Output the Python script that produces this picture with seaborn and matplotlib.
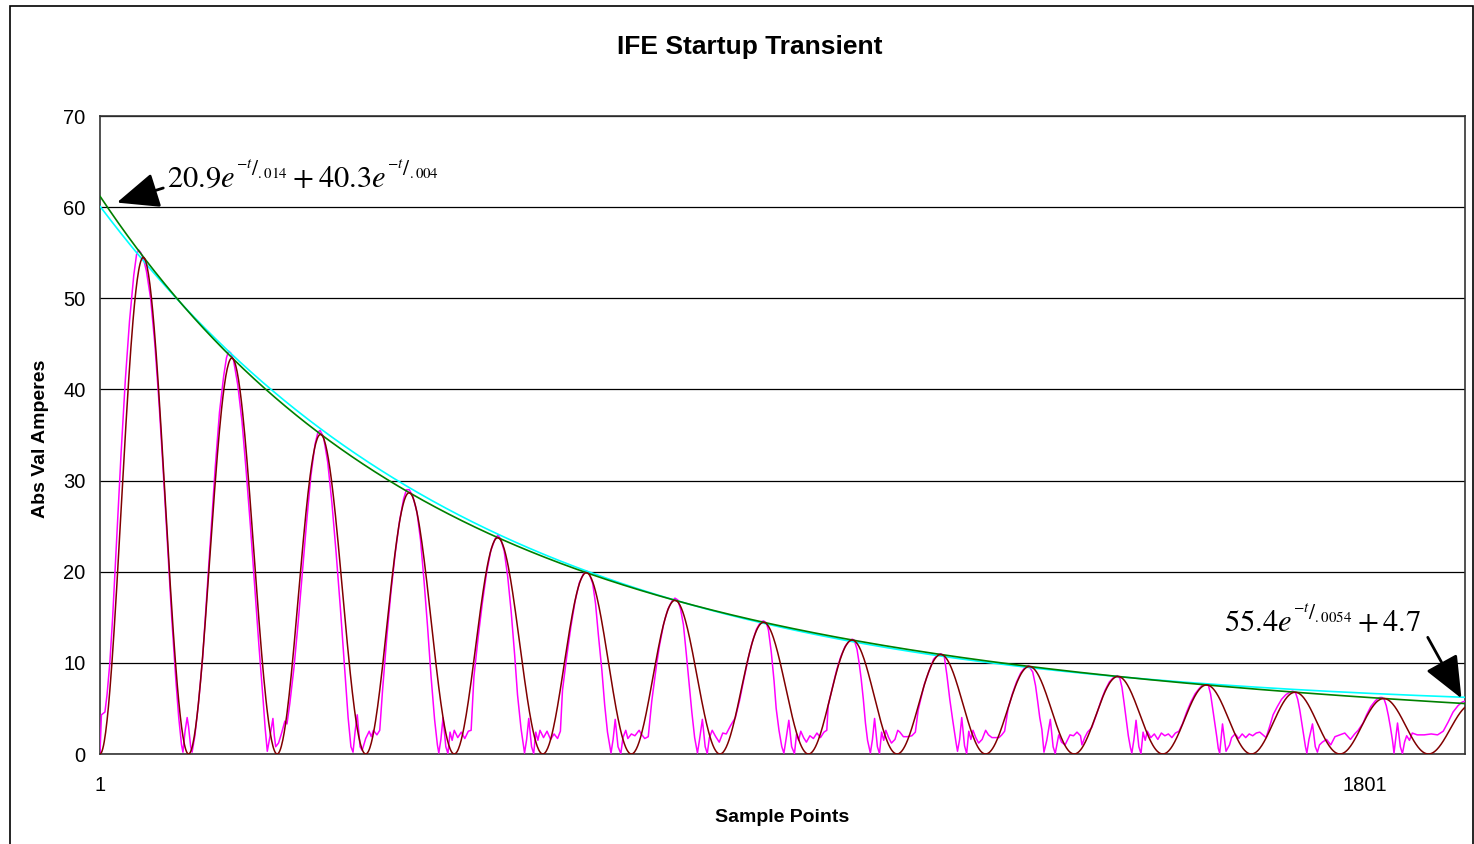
import numpy as np
import pandas as pd
import matplotlib
matplotlib.use("Agg")
import matplotlib.pyplot as plt
from matplotlib.patches import Rectangle
import seaborn as sns

# ---- data -------------------------------------------------------------
n_samples = 1943            # record length (sample points)
sample_rate = 1.0e5         # samples per second
half_period = 126           # samples between current zeros

# two-exponential envelope fit: 20.9 e^(-t/.014) + 40.3 e^(-t/.004)
fit2_amp = [20.9, 40.3]
fit2_tau = [0.014, 0.004]
# single exponential + offset fit: 55.4 e^(-t/.0054) + 4.7
fit1_amp = 55.4
fit1_tau = 0.0054
fit1_offset = 4.7

# measured startup current (absolute value), sample number / amps
pink_samples = [
    1, 3, 8, 11, 15, 19, 25, 31, 37, 43, 49, 53, 56, 59, 63, 67, 73, 79, 85, 91, 97, 103, 109, 113, 117, 119,
    122, 125, 127, 130, 132,
    136, 141, 147, 153, 159, 165, 171, 177, 181, 184, 187, 191, 197, 203, 209, 215, 221, 227, 233, 236, 239,
    243, 247, 249, 251, 255, 259, 264, 267,
    271, 277, 283, 289, 295, 301, 307, 311, 314, 319, 325, 331, 337, 343, 349, 354, 358, 361,
    364, 367, 369, 371, 374, 379, 384, 387, 390, 395, 399,
    403, 409, 415, 421, 427, 433, 437, 441, 446, 452, 457, 462, 467, 472, 477, 481, 483,
    486, 489, 493, 496, 499, 502, 505, 510, 515, 520, 525, 529,
    533, 539, 545, 551, 557, 563, 567, 571, 576, 581, 586, 591, 595, 600, 605,
    608, 611, 615, 618, 621, 624, 627, 632, 637, 642, 647, 652, 656,
    659, 665, 671, 677, 683, 689, 693, 697, 702, 706, 710, 715, 719, 723, 728,
    731, 734, 738, 742, 745, 749, 752, 757, 762, 768, 771, 776, 781,
    786, 793, 797, 803, 809, 815, 819, 823, 827, 831, 835, 839, 843, 847, 851,
    854, 858, 862, 865, 868, 872, 877, 882, 887, 892, 898,
    905, 911, 917, 923, 929, 935, 941, 945, 949, 952, 956, 960, 963, 967, 971, 974,
    977, 981, 985, 989, 992, 995, 998, 1002, 1006, 1011, 1016, 1021, 1026, 1031, 1035,
    1037, 1043, 1049, 1055, 1061, 1067, 1071, 1074, 1078, 1081, 1084, 1087, 1090, 1093, 1097,
    1100, 1103, 1107, 1110, 1113, 1116, 1119, 1123, 1127, 1132, 1136, 1139, 1144, 1150, 1156, 1161,
    1165, 1168, 1174, 1181, 1187, 1193, 1197, 1202, 1206, 1210, 1214, 1219, 1221,
    1224, 1227, 1231, 1234, 1237, 1240, 1243, 1247, 1251, 1256, 1261, 1265, 1270, 1280, 1284, 1288,
    1293, 1299, 1305, 1311, 1317, 1322, 1328, 1332, 1335, 1338, 1341, 1344,
    1348, 1353, 1357, 1360, 1365, 1369, 1374, 1381, 1386, 1391, 1396, 1398, 1402, 1406,
    1412, 1419, 1425, 1431, 1437, 1443, 1448, 1452, 1455, 1458, 1461, 1464, 1467, 1469,
    1472, 1475, 1479, 1482, 1485, 1488, 1491, 1496, 1501, 1506, 1511, 1516, 1521, 1526, 1531, 1536,
    1541, 1547, 1553, 1559, 1565, 1570, 1574, 1578, 1581, 1584, 1587, 1590, 1592, 1594,
    1598, 1603, 1608, 1611, 1616, 1621, 1626, 1631, 1636, 1641, 1646, 1651, 1660,
    1665, 1670, 1676, 1682, 1688, 1694, 1698, 1702, 1705, 1708, 1711, 1714, 1716, 1718,
    1721, 1726, 1730, 1733, 1736, 1740, 1746, 1752, 1758, 1765, 1772, 1780, 1786, 1791, 1798,
    1803, 1809, 1815, 1819, 1822, 1825, 1828, 1831, 1834, 1837, 1840, 1842,
    1847, 1851, 1854, 1857, 1860, 1864, 1868, 1875, 1885, 1895, 1904, 1912, 1919, 1926, 1933, 1939, 1943,
]
pink_amps = [
    0, 4.3, 4.6, 6.5, 10, 15, 24, 33, 41, 47.5, 52.5, 54.8, 55.3, 55, 54.3, 53, 50, 45, 38.5, 31, 23, 15, 8, 4, 1, 0.2,
    2.5, 4.0, 3.0, 0.8, 0.2,
    2.0, 5.5, 10.5, 17.5, 24.5, 31.5, 37.5, 41.5, 43.5, 44.2, 44.0, 43.2, 40.5, 36.5, 31, 25, 18.5, 12, 6, 2.8, 0.3,
    2.0, 3.9, 2.0, 0.8, 1.2, 2.2, 3.6, 3.3,
    5.5, 9.5, 14.5, 20, 25.5, 30.5, 34, 35.3, 35.5, 34.8, 32, 27.5, 22, 16, 9.5, 4, 0.8, 0.2,
    2.5, 4.3, 2.5, 0.8, 0.4, 1.7, 2.5, 1.9, 2.6, 2.1, 2.6,
    7.0, 12.8, 17.8, 22.0, 25.5, 28, 29, 29, 28.3, 26.5, 23.5, 19, 14, 8.5, 3.8, 1.0, 0.1,
    1.6, 4.0, 0.8, 0.05, 2.4, 1.5, 2.6, 1.8, 2.4, 1.7, 2.5, 2.6,
    8.5, 12.8, 16.6, 19.9, 22.3, 23.6, 24.0, 23.6, 22.3, 19.5, 15.6, 10.8, 6.5, 2.8, 0.1,
    1.6, 3.9, 0.8, 0.05, 2.4, 1.5, 2.6, 1.8, 2.5, 1.6, 2.2, 1.7, 2.5,
    7.0, 10.7, 14.0, 16.8, 18.8, 19.8, 20.1, 19.8, 18.7, 16.5, 13.1, 9.2, 5.4, 2.4, 0.1,
    1.6, 3.8, 0.8, 0.05, 1.8, 2.6, 1.7, 2.2, 2.0, 2.6, 2.2, 1.7, 1.9,
    5.8, 9.9, 11.9, 14.3, 15.9, 16.8, 17.1, 16.9, 15.9, 14.2, 11.1, 7.8, 4.6, 1.8, 0.1,
    1.6, 3.8, 0.8, 0.05, 1.8, 2.6, 1.9, 1.3, 2.3, 2.2, 3.1,
    4.0, 5.9, 8.2, 10.4, 12.3, 13.7, 14.5, 14.6, 14.4, 13.6, 11.2, 8.0, 5.0, 2.6, 0.8, 0.1,
    1.6, 3.7, 0.8, 0.05, 2.2, 1.5, 2.5, 1.8, 1.3, 2.0, 1.7, 2.3, 1.8, 2.4, 2.6,
    5.3, 7.3, 9.2, 10.7, 11.8, 12.4, 12.6, 12.5, 11.5, 10.0, 8.2, 6.0, 3.4, 1.5, 0.1,
    1.6, 3.9, 0.8, 0.05, 2.4, 1.5, 2.6, 1.8, 1.2, 1.6, 2.6, 2.4, 1.9, 1.9, 2.0, 2.4,
    4.8, 5.8, 7.7, 9.2, 10.4, 10.9, 11.0, 10.8, 8.6, 6.0, 3.8, 1.2, 0.3,
    1.6, 4.0, 0.9, 0.05, 2.5, 1.6, 2.6, 1.8, 1.2, 1.6, 2.6, 2.1, 1.8, 1.8, 2.1, 2.5,
    5.0, 6.6, 7.9, 8.9, 9.5, 9.7, 9.0, 7.5, 5.8, 4.0, 2.7, 0.2,
    1.5, 3.8, 0.8, 0.05, 2.1, 1.3, 1.0, 2.1, 2.0, 2.4, 2.0, 1.0, 1.8, 2.4,
    2.9, 4.4, 5.8, 7.0, 7.9, 8.4, 8.6, 8.3, 7.3, 5.6, 3.8, 2.0, 0.7, 0.1,
    1.6, 3.7, 0.8, 0.05, 2.4, 1.5, 2.5, 1.8, 2.2, 1.6, 2.3, 2.0, 2.2, 1.8, 2.3, 2.5,
    3.3, 4.6, 5.7, 6.6, 7.2, 7.6, 7.7, 7.5, 6.6, 5.0, 3.4, 1.8, 0.6, 0.1,
    3.3, 0.3, 1.0, 1.8, 2.2, 1.7, 2.2, 1.8, 2.2, 2.0, 2.3, 2.4, 1.8,
    3.0, 4.3, 5.2, 6.0, 6.5, 6.8, 6.9, 6.7, 6.0, 4.8, 3.3, 1.8, 0.8, 0.1,
    1.6, 3.3, 0.8, 0.2, 1.0, 1.3, 1.6, 1.0, 1.9, 2.1, 2.3, 1.6, 2.2, 2.6, 3.4,
    4.3, 5.2, 5.8, 6.1, 6.2, 6.2, 6.0, 5.3, 4.2, 2.9, 1.4, 0.1,
    3.4, 0.8, 0.05, 1.3, 2.0, 1.5, 2.3, 2.1, 2.1, 2.2, 2.1, 2.5, 3.5, 4.6, 5.3, 5.7, 5.8,
]

x_ticks = [1, 1801]
y_ticks = [0, 10, 20, 30, 40, 50, 60, 70]

# ---- derived series ---------------------------------------------------
samples = np.arange(1, n_samples + 1)
t = (samples - 1) / sample_rate
env2 = sum(a * np.exp(-t / tau) for a, tau in zip(fit2_amp, fit2_tau))
env1 = fit1_amp * np.exp(-t / fit1_tau) + fit1_offset
model = env2 * np.sin(np.pi * (samples - 1) / half_period) ** 2

df_model = pd.DataFrame({"sample": samples, "amps": model})
df_env1 = pd.DataFrame({"sample": samples, "amps": env1})
df_env2 = pd.DataFrame({"sample": samples, "amps": env2})
df_meas = pd.DataFrame({"sample": pink_samples, "amps": pink_amps})

# ---- figure -----------------------------------------------------------
sns.set_theme(style="white")
plt.rcParams["font.family"] = ["Liberation Sans", "DejaVu Sans"]
plt.rcParams["mathtext.fontset"] = "stix"
plt.rcParams["text.color"] = "black"

W, H = 1474, 844
fig = plt.figure(figsize=(W / 100, H / 100), dpi=100)
ax = fig.add_axes([100 / W, 1 - 754 / H, 1365 / W, 638 / H])

fig.patches.append(Rectangle((9.5 / W, -0.05), (1472.5 - 9.5) / W, 1.05 - 5.5 / H,
                             transform=fig.transFigure, fill=False,
                             ec="black", lw=1.2, zorder=0))

kw = dict(x="sample", y="amps", ax=ax, estimator=None, sort=False, legend=False)
sns.lineplot(data=df_meas, color="#FF00FF", lw=1.1, zorder=3, **kw)
sns.lineplot(data=df_env1, color="#00FFFF", lw=1.2, zorder=4, **kw)
sns.lineplot(data=df_env2, color="#008000", lw=1.2, zorder=5, **kw)
sns.lineplot(data=df_model, color="#800000", lw=1.1, zorder=6, **kw)

ax.set_xlim(1, n_samples)
ax.set_ylim(0, 70)
ax.set_xticks(x_ticks)
ax.set_xticklabels([str(v) for v in x_ticks])
ax.set_yticks(y_ticks)
ax.set_yticklabels([str(v) for v in y_ticks])
ax.tick_params(axis="both", direction="out", length=4.5, width=1.0, color="#444444",
               labelsize=14.5, labelcolor="black")
ax.tick_params(axis="x", pad=11)
ax.tick_params(axis="y", pad=6)
ax.set_xlabel("")
ax.set_ylabel("")
ax.yaxis.grid(True, color="black", lw=0.9)
ax.xaxis.grid(False)
ax.set_axisbelow(True)
for s in ax.spines.values():
    s.set_visible(True)
    s.set_color("#333333")
    s.set_linewidth(1.2)

fig.text(750 / W, 1 - 47 / H, "IFE Startup Transient", ha="center", va="center",
         fontsize=19, fontweight="bold", color="black")
fig.text(782 / W, 1 - 817 / H, "Sample Points", ha="center", va="center",
         fontsize=14, fontweight="bold", color="black")
fig.text(41 / W, 1 - 439 / H, "Abs Val Amperes", ha="center", va="center",
         rotation=90, fontsize=14, fontweight="bold", color="black")

arrow = dict(arrowstyle="-|>,head_length=1.3,head_width=0.55", color="black",
             lw=2.0, mutation_scale=20, shrinkA=0, shrinkB=0)
ax.annotate("", xy=(25, 60.5), xytext=(91, 62.1), arrowprops=arrow, zorder=8)
ax.annotate("", xy=(1938, 6.1), xytext=(1890, 12.8), arrowprops=arrow, zorder=8)
ax.text(97, 62.3, r"$20.9e^{{}^{-t}/{}_{.014}} + 40.3e^{{}^{-t}/{}_{.004}}$",
        fontsize=22, ha="left", va="baseline", color="black", zorder=9)
ax.text(1600, 13.4, r"$55.4e^{{}^{-t}/{}_{.0054}} + 4.7$", fontsize=22,
        ha="left", va="baseline", color="black", zorder=9)

fig.savefig("out.png", dpi=100)
